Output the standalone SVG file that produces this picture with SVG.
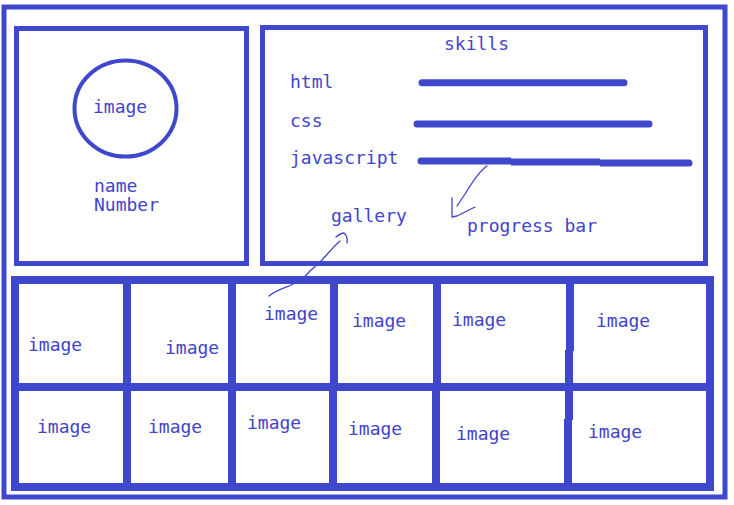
<svg xmlns="http://www.w3.org/2000/svg" width="734" height="505" viewBox="0 0 734 505">
<style>
.box{fill:none;stroke:#3f48cc;stroke-width:5}
.grid{fill:none;stroke:#3f48cc;stroke-width:8}
.bar{stroke:#3f48cc;stroke-width:7;stroke-linecap:round;fill:none}
.thin{stroke:#3f48cc;stroke-width:1.3;fill:none;stroke-linecap:round;stroke-linejoin:round}
text{font-family:"DejaVu Sans Mono","Liberation Mono",monospace;font-size:18px;fill:#4244cc}
</style>
<rect width="734" height="505" fill="#ffffff"/>
<g id="frame"><rect class="box" x="4" y="7" width="721" height="490"/></g>
<g id="profile">
<rect class="box" x="16.5" y="28.5" width="230" height="235"/>
<ellipse cx="125.5" cy="108.5" rx="51" ry="48" fill="none" stroke="#3f48cc" stroke-width="4"/>
<text x="93" y="113">image</text>
<text x="94" y="192">name</text>
<text x="94" y="211">Number</text>
</g>
<g id="skills">
<rect class="box" x="262.5" y="27.5" width="443" height="236"/>
<text x="444" y="50">skills</text>
<text x="290" y="88">html</text>
<text x="290" y="127">css</text>
<text x="290" y="164">javascript</text>
<line class="bar" x1="422" y1="82.7" x2="624" y2="82.7"/>
<line class="bar" x1="417" y1="124" x2="649" y2="124"/>
<path d="M421,157.5 H511 V158.5 H600 V159.5 H689 A3.5,3.5 0 0 1 689,166.5 H600 V165.5 H511 V164.5 H421 A3.5,3.5 0 0 1 421,157.5 Z" fill="#3f48cc"/>
<text x="331" y="222">gallery</text>
<text x="467" y="232">progress bar</text>
</g>
<g id="gallery">
<rect class="grid" x="15" y="280" width="695" height="207"/>
<line class="grid" x1="15" y1="387" x2="710" y2="387"/>
<line class="grid" x1="127" y1="280" x2="127" y2="487"/>
<line class="grid" x1="232" y1="280" x2="232" y2="490"/>
<line class="grid" x1="334" y1="280" x2="334" y2="387"/>
<line class="grid" x1="333" y1="387" x2="333" y2="487"/>
<line class="grid" x1="437" y1="280" x2="437" y2="387"/>
<line class="grid" x1="436" y1="387" x2="436" y2="489"/>
<line class="grid" x1="570" y1="280" x2="570" y2="351"/>
<line class="grid" x1="569" y1="350" x2="569" y2="420"/>
<line class="grid" x1="568" y1="419" x2="568" y2="487"/>
<text x="28" y="351">image</text>
<text x="165" y="354">image</text>
<text x="264" y="320">image</text>
<text x="352" y="327">image</text>
<text x="452" y="326">image</text>
<text x="596" y="327">image</text>
<text x="37" y="433">image</text>
<text x="148" y="433">image</text>
<text x="247" y="429">image</text>
<text x="348" y="435">image</text>
<text x="456" y="440">image</text>
<text x="588" y="438">image</text>
</g>
<g id="connectors">
<path class="thin" d="M487,166 C478,172 470,186 465,194 L457,206"/>
<path class="thin" d="M452,198 L452,217 L457,216 L475,207"/>
<path class="thin" d="M269,296 C278,289 286,288 293,284 C300,281 305,277 310,271 L320,262 C326,256 332,248 340,241"/>
<path class="thin" d="M336,237 Q341,233 344,233 Q348,236 347,243"/>
</g>
</svg>
